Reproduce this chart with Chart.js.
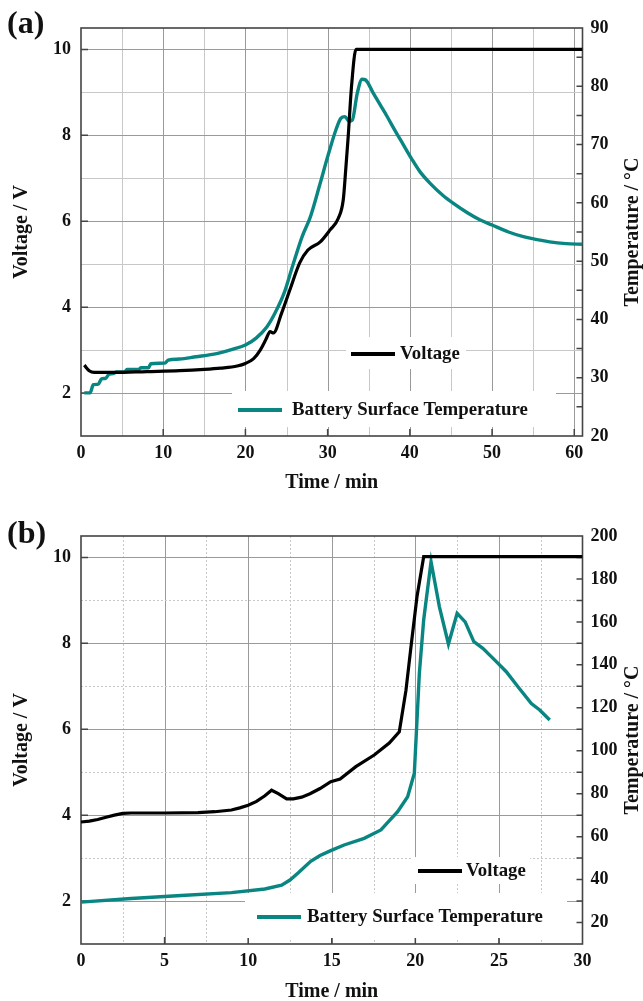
<!DOCTYPE html>
<html>
<head>
<meta charset="utf-8">
<script src="https://cdn.jsdelivr.net/npm/chart.js@4.4.0/dist/chart.umd.min.js"></script>
<style>
    html, body { margin: 0; padding: 0; background: #fff; }
    .panel { position: absolute; left: 0; width: 643px; }
    #panelA { top: 0; height: 500px; }
    #panelB { top: 500px; height: 501px; }
</style>
</head>
<body>
<div class="panel" id="panelA"><canvas id="chartA"></canvas></div>
<div class="panel" id="panelB"><canvas id="chartB"></canvas></div>
<script>
// ---- data ----
// (a)
var timeVoltA = [0.4, 1.0, 1.6, 4, 8, 12, 15, 17, 19, 20, 21, 21.8, 22.5, 23, 23.4, 24.4, 25.4, 26.6, 27.6, 29.1,
    30.3, 31.3, 31.9, 32.2, 32.5, 32.9, 33.45, 61];
var voltA = [2.65, 2.52, 2.48, 2.48, 2.5, 2.52, 2.55, 2.58, 2.63, 2.69, 2.8, 3.0, 3.25, 3.43, 3.4, 3.86, 4.4, 5.03, 5.33, 5.52,
    5.8, 6.07, 6.5, 7.2, 7.97, 9.13, 10, 10];
var timeTempA = [0.4, 1.1, 1.5, 2.1, 2.5, 3.0, 3.4, 3.9, 4.3, 5.3, 5.6, 7.0, 7.3, 8.2, 8.5, 10.2, 10.6, 12, 14, 16,
    17, 18.5, 20, 21.3, 22.6, 23.6, 24.7, 25.7, 26.9, 27.9, 29.1, 30, 31, 31.6, 32.1, 32.6, 33.0, 33.6, 34.2, 34.6,
    35.5, 36.4, 37.2, 38.2, 39.2, 40.2, 41.2, 42.5, 44, 45.3, 47, 48.5, 50, 52, 53.8, 55.5, 57, 59, 61];
var tempA = [27.4, 27.4, 28.8, 28.9, 29.8, 29.9, 30.6, 30.7, 31.0, 31.0, 31.4, 31.4, 31.7, 31.7, 32.4, 32.5, 33.0, 33.2, 33.6, 34.0,
    34.3, 34.9, 35.6, 36.8, 38.7, 41.1, 44.5, 49.0, 54.2, 57.6, 63.4, 67.9, 72.5, 74.5, 74.8, 74.0, 74.2, 78.8, 81.2, 81.1,
    78.95, 76.8, 74.9, 72.4, 70.0, 67.6, 65.4, 63.3, 61.3, 59.9, 58.3, 57.1, 56.2, 55.0, 54.2, 53.7, 53.3, 53.0, 52.9];

// (b)
var timeVoltB = [0, 0.5, 1, 1.5, 2, 2.5, 3, 5, 7, 8, 9, 9.5, 10, 10.5, 11, 11.4, 11.8, 12.3, 12.7, 13.2,
    13.7, 14.3, 14.94, 15.5, 16.44, 17.54, 18.44, 19.04, 19.44, 19.74, 20.1, 20.5, 30];
var voltB = [3.84, 3.86, 3.9, 3.95, 4.0, 4.04, 4.05, 4.05, 4.06, 4.08, 4.12, 4.17, 4.23, 4.32, 4.45, 4.58, 4.5, 4.38, 4.38, 4.42,
    4.5, 4.62, 4.78, 4.84, 5.13, 5.4, 5.68, 5.94, 6.91, 7.92, 9.09, 10.02, 10.02];
var timeTempB = [0, 3, 6, 9, 11, 12, 12.5, 13, 13.74, 14.3, 14.94, 15.74, 16.94, 17.94, 18.94, 19.54, 19.94, 20.24, 20.5, 20.94,
    21.44, 21.98, 22.5, 22.98, 23.5, 24.04, 24.74, 25.44, 26.14, 26.94, 27.44, 28.04];
var tempB = [29.5, 31.2, 32.6, 33.9, 35.6, 37.4, 39.8, 43.2, 48.5, 51.2, 53.5, 56.1, 59.2, 63.1, 71.6, 78.6, 89.5, 136, 161, 188,
    167, 149.7, 164, 160, 150.8, 147.7, 142.3, 136.8, 129.8, 122, 119, 114.3];

// tick labels
var voltTicks = [2, 4, 6, 8, 10];
var timeTicksA = [0, 10, 20, 30, 40, 50, 60];
var tempTicksA = [20, 30, 40, 50, 60, 70, 80, 90];
var timeTicksB = [0, 5, 10, 15, 20, 25, 30];
var tempTicksB = [20, 40, 60, 80, 100, 120, 140, 160, 180, 200];

var seriesLabels = ['Voltage', 'Battery Surface Temperature'];

// ---- styling ----
var SERIF = "'Liberation Serif', 'Times New Roman', serif";
var INK = '#111';
var BLACK = '#000';
var TEAL = '#0a8682';

function toPoints(xs, ys) {
    return xs.map(function (x, i) { return { x: x, y: ys[i] }; });
}

function fixedTicks(values) {
    return function (scale) {
        scale.ticks = values.map(function (v) { return { value: v }; });
    };
}

function isMultiple(v, step) {
    return Math.abs(v / step - Math.round(v / step)) < 1e-6;
}

// Grid lines, inward tick marks and the plot frame
function makeFrameGrid(g) {
    return {
        id: 'frameGrid',
        beforeDatasetsDraw: function (chart) {
            var ctx = chart.ctx, a = chart.chartArea;
            var sx = chart.scales.x, sy = chart.scales.y, sy2 = chart.scales.y2;
            var i, v, p;
            ctx.save();
            ctx.lineWidth = 1;

            // vertical grid
            var nx = Math.round(sx.max / g.xMinor);
            for (i = 1; i <= nx; i++) {
                v = i * g.xMinor;
                if (v >= sx.max) break;
                p = Math.round(sx.getPixelForValue(v)) + 0.5;
                var majorX = isMultiple(v, g.xMajor);
                ctx.strokeStyle = majorX ? '#9a9a9a' : '#c8c8c8';
                ctx.setLineDash(majorX ? [] : g.minorDash);
                ctx.beginPath();
                ctx.moveTo(p, a.top);
                ctx.lineTo(p, a.bottom);
                ctx.stroke();
            }

            // horizontal grid (voltage axis, every 1 V)
            for (v = 2; v < sy.max; v++) {
                p = Math.round(sy.getPixelForValue(v)) + 0.5;
                var majorY = v % 2 === 0;
                ctx.strokeStyle = majorY ? '#9a9a9a' : '#c8c8c8';
                ctx.setLineDash(majorY ? [] : g.minorDash);
                ctx.beginPath();
                ctx.moveTo(a.left, p);
                ctx.lineTo(a.right, p);
                ctx.stroke();
            }
            ctx.setLineDash([]);

            // inward tick marks
            ctx.strokeStyle = '#444';
            ctx.lineWidth = 1.5;
            ctx.beginPath();
            for (i = 1; i * g.xMajor < sx.max; i++) {
                p = sx.getPixelForValue(i * g.xMajor);
                ctx.moveTo(p, a.bottom);
                ctx.lineTo(p, a.bottom - 7);
            }
            voltTicks.forEach(function (t) {
                p = sy.getPixelForValue(t);
                ctx.moveTo(a.left, p);
                ctx.lineTo(a.left + 7, p);
            });
            var n2 = Math.round((sy2.max - sy2.min) / g.y2Minor);
            for (i = 1; i < n2; i++) {
                p = sy2.getPixelForValue(sy2.min + i * g.y2Minor);
                ctx.moveTo(a.right, p);
                ctx.lineTo(a.right - 6, p);
            }
            ctx.stroke();

            // frame
            ctx.strokeStyle = '#444';
            ctx.lineWidth = 1.6;
            ctx.strokeRect(a.left, a.top, a.right - a.left, a.bottom - a.top);
            ctx.restore();
        }
    };
}

// Panel letter, axis titles and the in-plot legend
function makeDecor(d) {
    function vertical(ctx, text, x, y) {
        ctx.save();
        ctx.translate(x, y);
        ctx.rotate(-Math.PI / 2);
        ctx.fillText(text, 0, 0);
        ctx.restore();
    }
    return {
        id: 'decor',
        afterDraw: function (chart) {
            var ctx = chart.ctx, a = chart.chartArea;
            var midY = (a.top + a.bottom) / 2;
            ctx.save();
            ctx.fillStyle = INK;
            ctx.textBaseline = 'middle';

            ctx.font = 'bold 32px ' + SERIF;
            ctx.textAlign = 'left';
            ctx.fillText(d.panel, 7, d.panelY);

            ctx.font = 'bold 20px ' + SERIF;
            ctx.textAlign = 'center';
            ctx.fillText('Time / min', (a.left + a.right) / 2, d.xTitleY);
            vertical(ctx, 'Voltage / V', 22, midY);
            vertical(ctx, 'Temperature / \u00B0C', 633, midY);

            d.legend.forEach(function (e, k) {
                var ds = chart.data.datasets[k];
                ctx.fillStyle = '#fff';
                ctx.fillRect(e.box[0], e.box[1], e.box[2], e.box[3]);
                ctx.strokeStyle = ds.borderColor;
                ctx.lineWidth = 4;
                ctx.beginPath();
                ctx.moveTo(e.x, e.y);
                ctx.lineTo(e.x + 44, e.y);
                ctx.stroke();
                ctx.fillStyle = INK;
                ctx.font = 'bold 18.8px ' + SERIF;
                ctx.textAlign = 'left';
                ctx.fillText(ds.label, e.x + e.gap, e.y);
            });
            ctx.restore();
        }
    };
}

function makeScales(xMax, xTicks, tMin, tMax, tTicks, xHeight) {
    var tickFont = { family: SERIF, size: 18, weight: 'bold' };
    return {
        x: {
            type: 'linear', min: 0, max: xMax,
            afterBuildTicks: fixedTicks(xTicks),
            afterFit: function (s) { s.height = xHeight; },
            grid: { display: false, drawTicks: false },
            border: { display: false },
            ticks: { font: tickFont, color: INK, padding: 7, maxRotation: 0, autoSkip: false }
        },
        y: {
            type: 'linear', position: 'left', min: 1, max: 10.5,
            afterBuildTicks: fixedTicks(voltTicks),
            afterFit: function (s) { s.width = 81; },
            grid: { display: false, drawTicks: false },
            border: { display: false },
            ticks: { font: tickFont, color: INK, padding: 10 }
        },
        y2: {
            type: 'linear', position: 'right', min: tMin, max: tMax,
            afterBuildTicks: fixedTicks(tTicks),
            afterFit: function (s) { s.width = 60.5; },
            grid: { display: false, drawTicks: false },
            border: { display: false },
            ticks: { font: tickFont, color: INK, padding: 8 }
        }
    };
}

function makeChart(id, cfg) {
    return new Chart(document.getElementById(id), {
        type: 'line',
        data: {
            datasets: [{
                label: seriesLabels[0],
                data: toPoints(cfg.tv, cfg.v),
                yAxisID: 'y',
                borderColor: BLACK,
                borderWidth: 3.2,
                pointRadius: 0,
                cubicInterpolationMode: cfg.smooth ? 'monotone' : 'default',
                tension: 0
            }, {
                label: seriesLabels[1],
                data: toPoints(cfg.tt, cfg.t),
                yAxisID: 'y2',
                borderColor: TEAL,
                borderWidth: 3.4,
                pointRadius: 0,
                cubicInterpolationMode: cfg.smooth ? 'monotone' : 'default',
                tension: 0
            }]
        },
        options: {
            responsive: true,
            maintainAspectRatio: false,
            animation: false,
            events: [],
            layout: { padding: { top: cfg.top, left: 0, right: 0, bottom: 0 } },
            scales: cfg.scales,
            plugins: { legend: { display: false }, tooltip: { enabled: false } }
        },
        plugins: [makeFrameGrid(cfg.grid), makeDecor(cfg.decor)]
    });
}

makeChart('chartA', {
    tv: timeVoltA, v: voltA, tt: timeTempA, t: tempA,
    top: 28, smooth: true,
    scales: makeScales(61, timeTicksA, 20, 90, tempTicksA, 64),
    grid: { xMinor: 5, xMajor: 10, y2Minor: 5, minorDash: [] },
    decor: {
        panel: '(a)', panelY: 25, xTitleY: 483,
        legend: [
            { box: [346, 337, 120, 32], x: 351, y: 354, gap: 49 },
            { box: [232, 391, 324, 36], x: 238, y: 410, gap: 54 }
        ]
    }
});

makeChart('chartB', {
    tv: timeVoltB, v: voltB, tt: timeTempB, t: tempB,
    top: 36, smooth: false,
    scales: makeScales(30, timeTicksB, 10, 200, tempTicksB, 57),
    grid: { xMinor: 2.5, xMajor: 5, y2Minor: 10, minorDash: [2, 2] },
    decor: {
        panel: '(b)', panelY: 35, xTitleY: 492,
        legend: [
            { box: [412, 357, 118, 27], x: 418, y: 371, gap: 48 },
            { box: [245, 393, 322, 45], x: 257, y: 417, gap: 50 }
        ]
    }
});
</script>
</body>
</html>
